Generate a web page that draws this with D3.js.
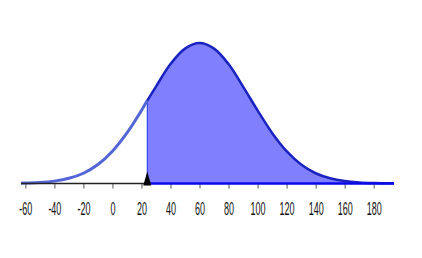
<!DOCTYPE html>
<html>
<head>
<meta charset="utf-8">
<script src="https://cdn.jsdelivr.net/npm/d3@7"></script>
<style>
	body { margin: 0; background: #fff; }
	svg { display: block; }
	.axis text { font-family: "Liberation Sans", Arial, sans-serif; font-size: 18px; fill: #111; }
</style>
</head>
<body>
<div id="chart"></div>
<script>

// curve heights (relative to the peak)
var xs = [-63, -60, -50, -40, -30, -20, -10, 0, 10, 20, 24, 30, 40, 50, 60, 70, 80, 90, 100, 110, 120, 130, 140, 150, 160, 170, 180, 194];
var heights = [0.002, 0.003, 0.007, 0.017, 0.037, 0.073, 0.135, 0.23, 0.36, 0.52, 0.59, 0.69, 0.85, 0.96, 1, 0.96, 0.85, 0.69, 0.52, 0.36, 0.23, 0.135, 0.073, 0.037, 0.017, 0.007, 0.003, 0.001];
var cutoff = 24;
var tickValues = [-60, -40, -20, 0, 20, 40, 60, 80, 100, 120, 140, 160, 180];
var tickLabels = ["-60", "-40", "-20", "0", "20", "40", "60", "80", "100", "120", "140", "160", "180"];

var width = 422, height = 258;

var x = d3.scaleLinear().domain([-63, 194]).range([21, 394]),
	y = d3.scaleLinear().domain([0, 1]).range([183.5, 43]);

var data = xs.map(function(d, i) { return {x: d, h: heights[i]}; });
var left = data.filter(function(d) { return d.x <= cutoff; });
var right = data.filter(function(d) { return d.x >= cutoff; });
var cutH = heights[xs.indexOf(cutoff)];

var svg = d3.select("#chart").append("svg")
	.attr("width", width)
	.attr("height", height);

var line = d3.line()
	.curve(d3.curveCatmullRom)
	.x(function(d) { return x(d.x); })
	.y(function(d) { return y(d.h); });

var area = d3.area()
	.curve(d3.curveCatmullRom)
	.x(function(d) { return x(d.x); })
	.y0(y(0))
	.y1(function(d) { return y(d.h); });

svg.append("path")
	.datum(right)
	.attr("d", area)
	.attr("fill", "#8080ff");

svg.append("line")
	.attr("x1", x(cutoff)).attr("x2", x(cutoff))
	.attr("y1", y(cutH)).attr("y2", y(0))
	.attr("stroke", "#2030f0")
	.attr("stroke-width", 1);

svg.append("path")
	.datum(left)
	.attr("d", line)
	.attr("fill", "none")
	.attr("stroke", "#5466d6")
	.attr("stroke-width", 3);

svg.append("path")
	.datum(right)
	.attr("d", line)
	.attr("fill", "none")
	.attr("stroke", "#1a22c0")
	.attr("stroke-width", 2.5);

// axis
var g = svg.append("g")
	.attr("class", "axis")
	.attr("transform", "translate(0," + y(0) + ")");

g.call(d3.axisBottom(x)
	.tickValues(tickValues)
	.tickFormat(function(d, i) { return tickLabels[i]; })
	.tickSize(5)
	.tickPadding(14));

g.select(".domain").remove();
g.selectAll(".tick line").attr("stroke", "#555");
g.selectAll(".tick text")
	.attr("transform", "scale(0.5,1)");

g.append("line")
	.attr("x1", x(-63)).attr("x2", x(cutoff))
	.attr("y1", 0).attr("y2", 0)
	.attr("stroke", "#222")
	.attr("stroke-width", 1.5);

g.append("line")
	.attr("x1", x(cutoff)).attr("x2", x(194))
	.attr("y1", 0).attr("y2", 0)
	.attr("stroke", "#0a0ae8")
	.attr("stroke-width", 2.5);

// marker
var cx = x(cutoff);
svg.append("path")
	.attr("d", "M" + (cx - 4) + "," + (y(0) + 2) + "L" + cx + "," + (y(0) - 12) + "L" + (cx + 4) + "," + (y(0) + 2) + "Z")
	.attr("fill", "#000");

</script>
</body>
</html>
